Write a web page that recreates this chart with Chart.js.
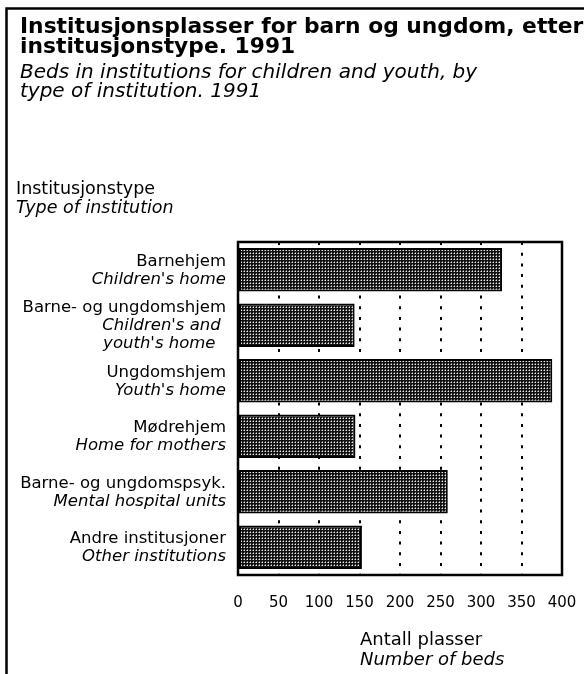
<!DOCTYPE html>
<html>
<head>
<meta charset="utf-8">
<script src="https://cdn.jsdelivr.net/npm/chart.js@4/dist/chart.umd.min.js"></script>
<style>
  html, body { margin: 0; padding: 0; background: #fff; }
</style>
</head>
<body>
<canvas id="c" width="584" height="674"></canvas>
<script>
(function () {
  "use strict";

  // data (beds, 1991)
  const typesNo = ["Barnehjem", "Barne- og ungdomshjem", "Ungdomshjem", "Mødrehjem",
    "Barne- og ungdomspsyk.", "Andre institusjoner"];
  const typesEn = [["Children's home"], ["Children's and ", "youth's home  "], ["Youth's home"],
    ["Home for mothers"], ["Mental hospital units"], ["Other institutions"]];
  const beds = [326, 144, 388, 145, 259, 153];
  const xTicks = [0, 50, 100, 150, 200, 250, 300, 350, 400];

  const titleNo = ["Institusjonsplasser for barn og ungdom, etter", "institusjonstype. 1991"];
  const titleEn = ["Beds in institutions for children and youth, by", "type of institution. 1991"];
  const yHeading = ["Institusjonstype", "Type of institution"];
  const xHeading = ["Antall plasser", "Number of beds"];

  const FONT = '"DejaVu Sans", sans-serif';

  // stippled fill like the printed bars
  function stipple() {
    const t = document.createElement("canvas");
    t.width = 3;
    t.height = 3;
    const c = t.getContext("2d");
    c.fillStyle = "#111111";
    c.fillRect(0, 0, 3, 3);
    c.fillStyle = "#eeeeee";
    c.fillRect(1, 1, 1, 1);
    c.fillStyle = "#777777";
    c.fillRect(0, 1, 1, 1);
    c.fillRect(1, 0, 1, 1);
    return document.getElementById("c").getContext("2d").createPattern(t, "repeat");
  }

  function lines(ctx, arr, x, y0, step, font, align) {
    ctx.font = font;
    ctx.textAlign = align || "left";
    arr.forEach(function (s, i) {
      ctx.fillText(s, x, y0 + i * step);
    });
  }

  const textPlugin = {
    id: "texts",
    afterDraw(chart) {
      const ctx = chart.ctx;
      const area = chart.chartArea;
      const yScale = chart.scales.y;
      ctx.save();
      ctx.fillStyle = "#000";
      ctx.textBaseline = "alphabetic";

      // outer frame of the figure
      ctx.strokeStyle = "#000";
      ctx.lineWidth = 2.5;
      ctx.beginPath();
      ctx.moveTo(6.5, 674);
      ctx.lineTo(6.5, 8.5);
      ctx.lineTo(584, 8.5);
      ctx.stroke();

      // plot frame
      ctx.lineWidth = 2.5;
      ctx.strokeRect(area.left, area.top, area.right - area.left, area.bottom - area.top);

      lines(ctx, titleNo, 20, 33, 20, "bold 21.8px " + FONT);
      lines(ctx, titleEn, 20, 78, 18.5, "italic 20px " + FONT);
      lines(ctx, [yHeading[0]], 16, 194, 19, "17.5px " + FONT);
      lines(ctx, [yHeading[1]], 16, 213, 19, "italic 17.5px " + FONT);

      // category labels, Norwegian upright + English italic
      typesNo.forEach(function (no, i) {
        const cy = yScale.getPixelForValue(i);
        const n = 1 + typesEn[i].length;
        const first = cy - (n - 1) * 18 / 2 + 5;
        lines(ctx, [no], 226, first, 18, "16.5px " + FONT, "right");
        lines(ctx, typesEn[i], 226, first + 18, 18, "italic 16.5px " + FONT, "right");
      });

      lines(ctx, [xHeading[0]], 360, 645, 20, "18px " + FONT);
      lines(ctx, [xHeading[1]], 360, 665, 20, "italic 18px " + FONT);
      ctx.restore();
    }
  };

  new Chart(document.getElementById("c"), {
    type: "bar",
    data: {
      labels: typesNo,
      datasets: [{
        data: beds,
        backgroundColor: stipple(),
        borderColor: "#000",
        borderWidth: 2,
        borderSkipped: false,
        barPercentage: 0.78,
        categoryPercentage: 1
      }]
    },
    options: {
      indexAxis: "y",
      responsive: false,
      animation: false,
      layout: { padding: { top: 242, left: 21, right: 22, bottom: 0 } },
      plugins: {
        legend: { display: false },
        tooltip: { enabled: false },
        title: { display: false }
      },
      scales: {
        x: {
          min: 0,
          max: 400,
          afterBuildTicks: function (s) {
            s.ticks = xTicks.map(function (v) { return { value: v }; });
          },
          afterFit: function (s) {
            s.height = 99;
            s.paddingLeft = 0;
            s.paddingRight = 0;
          },
          ticks: {
            color: "#000",
            padding: 19,
            maxRotation: 0,
            autoSkip: false,
            font: { family: FONT, size: 15 }
          },
          grid: {
            drawTicks: false,
            lineWidth: 2,
            borderDash: [3, 7.7],
            color: function (c) {
              const v = c.tick && c.tick.value;
              return (v === 0 || v === 400) ? "rgba(0,0,0,0)" : "#000";
            }
          },
          border: { display: false, dash: [3, 7.7] }
        },
        y: {
          afterFit: function (s) { s.width = 217; },
          ticks: { display: false },
          grid: { display: false },
          border: { display: false }
        }
      }
    },
    plugins: [textPlugin]
  });
})();
</script>
</body>
</html>
